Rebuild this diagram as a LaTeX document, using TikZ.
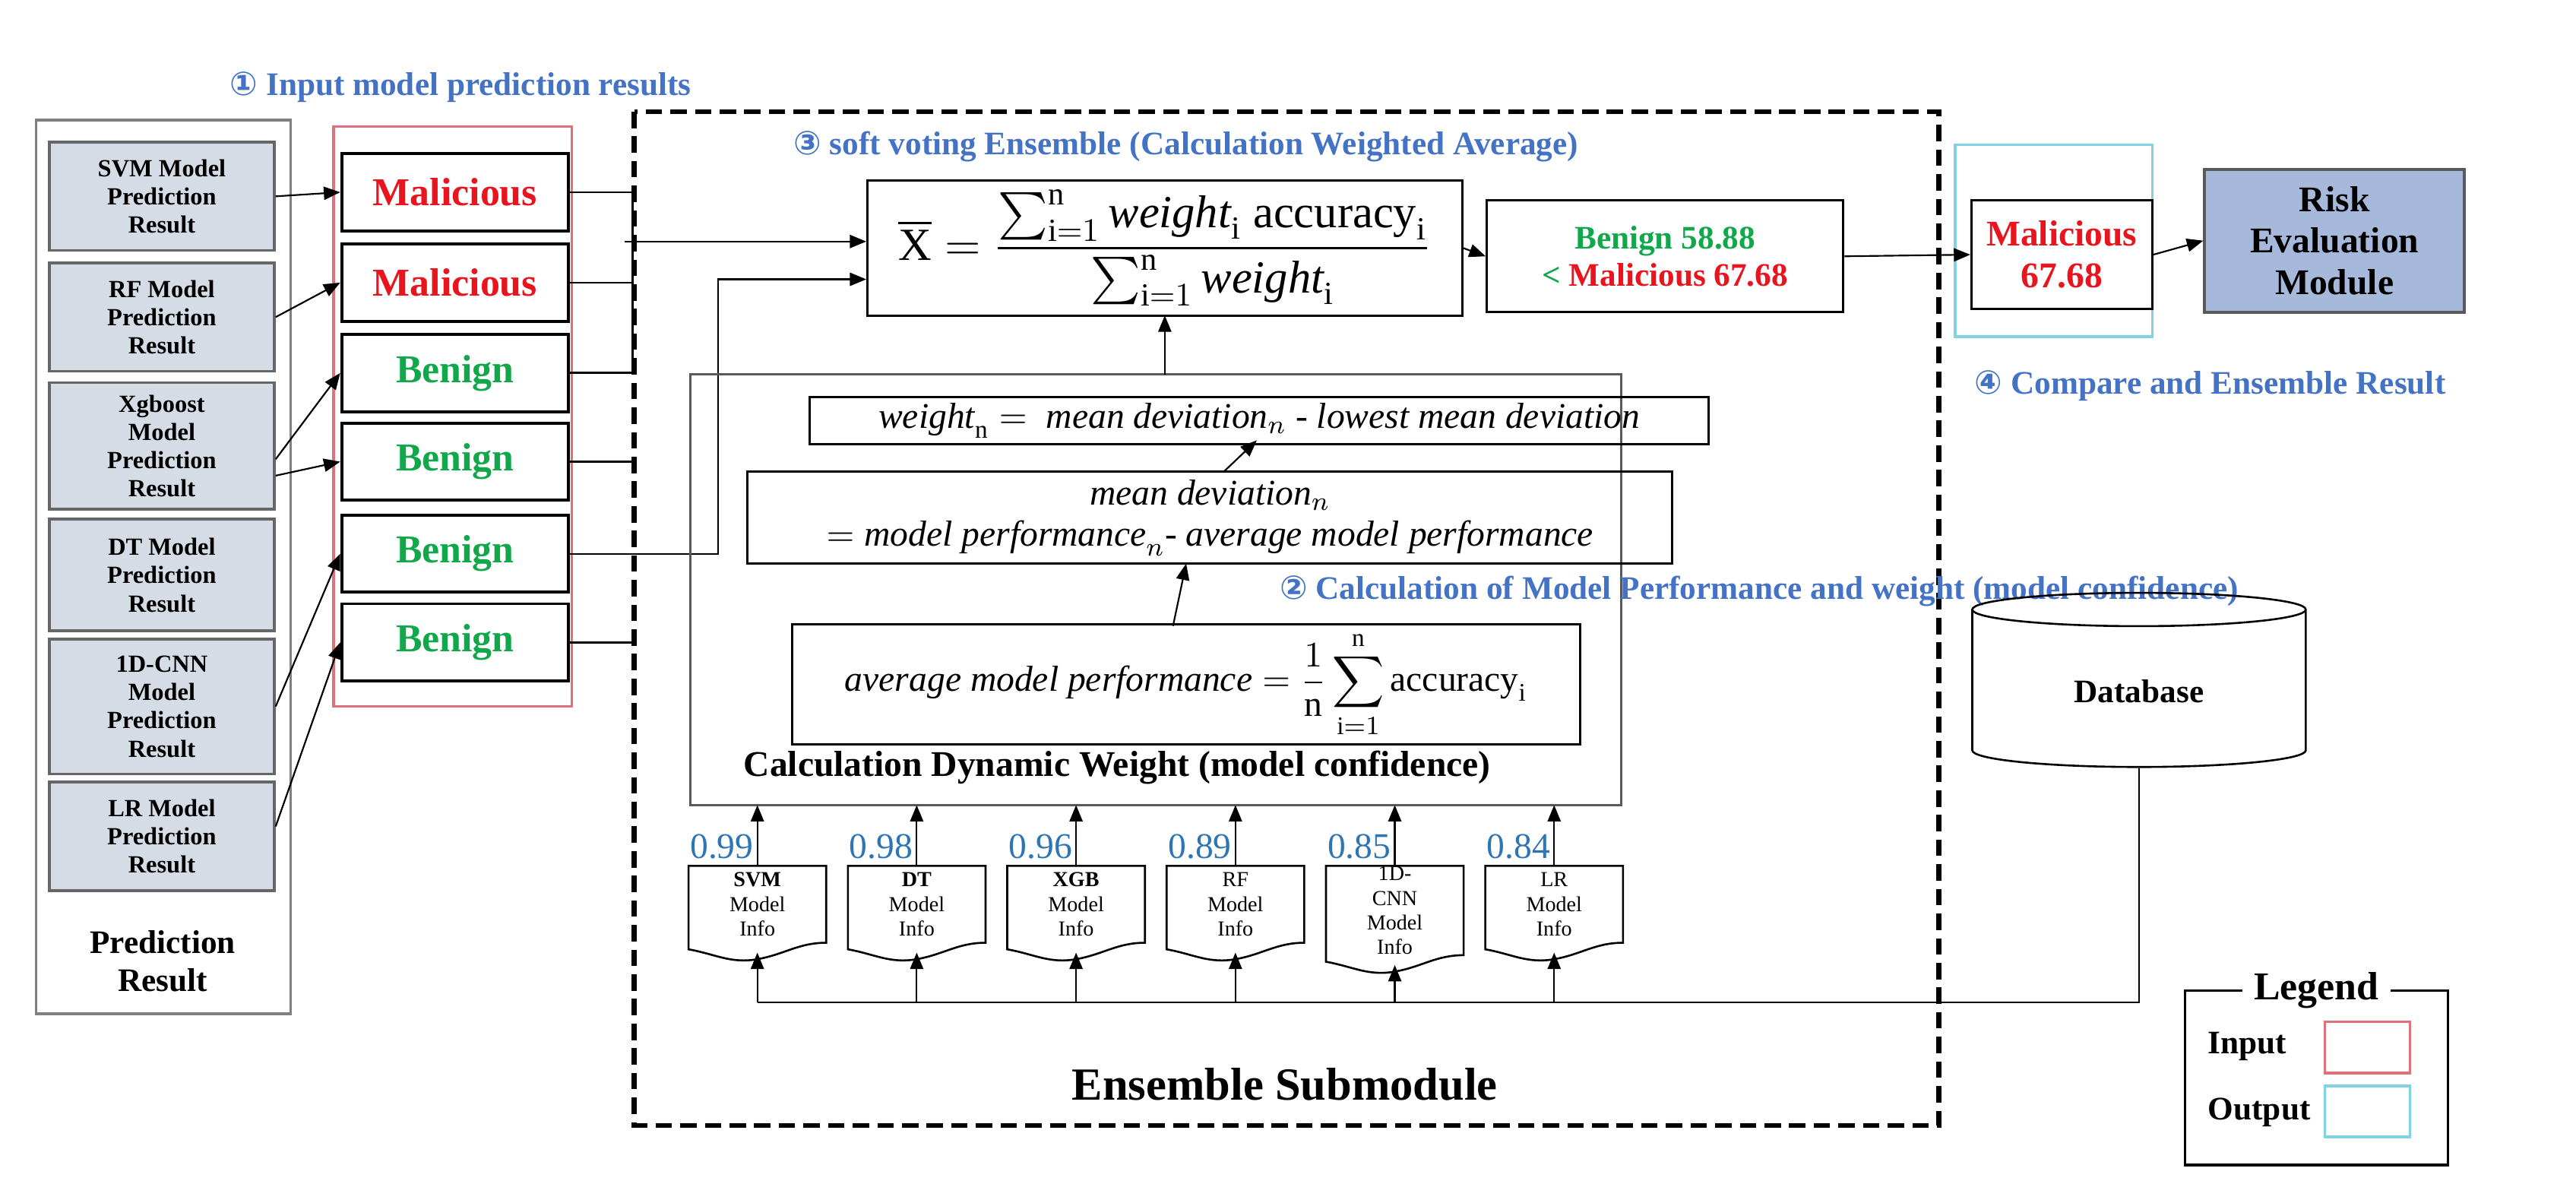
\documentclass[tikz,border=0pt]{standalone}
\usepackage{amsmath}
\usepackage{fontspec}
\setmainfont{Liberation Serif}
\newfontfamily\circfont{DejaVu Sans}
\usepackage{tikz}
\usetikzlibrary{calc,positioning,shapes,arrows,arrows.meta}
\definecolor{stepblue}{HTML}{4472C4}
\definecolor{valblue}{HTML}{2E75B6}
\definecolor{predgray}{HTML}{D6DCE5}
\definecolor{riskblue}{HTML}{A7B9DA}
\definecolor{malred}{HTML}{E8141E}
\definecolor{bengreen}{HTML}{10A84A}
\definecolor{inred}{HTML}{E0707A}
\definecolor{outcyan}{HTML}{7FD3E3}
\newcommand{\fs}[1]{\fontsize{#1}{1.15\dimexpr#1pt\relax}\selectfont}
\tikzset{
	>=Triangle,
	arr/.style={->,>={Triangle[length=5pt,width=4pt]},line width=0.5pt},
	predbox/.style={draw=gray!80!black,fill=predgray,line width=0.8pt,minimum width=68.5pt,align=center,font=\fs{7.5}\bfseries,inner sep=1pt},
	resbox/.style={draw,line width=0.9pt,minimum width=69pt,minimum height=23.5pt,font=\fs{12}\bfseries},
	eqbox/.style={draw,line width=0.7pt,inner sep=2pt},
	docnode/.style={minimum width=41.5pt,minimum height=23pt,align=center,font=\fs{6.5},inner sep=0pt,anchor=north},
	steplbl/.style={text=stepblue,font=\fs{10}\bfseries,anchor=west},
	val/.style={text=valblue,font=\fs{11},anchor=south east,inner sep=0pt}
}
\begin{document}
\begin{tikzpicture}[x=0.5pt,y=-0.5pt]
	\useasboundingbox (0,0) rectangle (1568,732);
	% prediction results
	\draw[gray,line width=0.8pt] (22,73) rectangle (177,617);
	\node[font=\fs{10}\bfseries,align=center] (predlbl) at (99,585) {Prediction\\Result};
	\node[predbox,minimum height=33pt] (svm) at (98.5,119.5) {SVM Model\\Prediction\\Result};
	\node[predbox,minimum height=33pt] (rf) at (98.5,193) {RF Model\\Prediction\\Result};
	\node[predbox,minimum height=38.5pt] (xgb) at (98.5,271.5) {Xgboost\\Model\\Prediction\\Result};
	\node[predbox,minimum height=34pt] (dt) at (98.5,350) {DT Model\\Prediction\\Result};
	\node[predbox,minimum height=41pt] (cnn) at (98.5,430) {1D-CNN\\Model\\Prediction\\Result};
	\node[predbox,minimum height=33pt] (lr) at (98.5,509) {LR Model\\Prediction\\Result};
	\node[steplbl] (s1) at (133,53) {{\circfont ①} Input model prediction results};
	% input votes
	\draw[inred,line width=0.8pt] (203,77) rectangle (348,430);
	\node[resbox,text=malred] (r1) at (277,117) {Malicious};
	\node[resbox,text=malred] (r2) at (277,172) {Malicious};
	\node[resbox,text=bengreen] (r3) at (277,227) {Benign};
	\node[resbox,text=bengreen] (r4) at (277,281) {Benign};
	\node[resbox,text=bengreen] (r5) at (277,337) {Benign};
	\node[resbox,text=bengreen] (r6) at (277,391) {Benign};
	\draw[arr] (svm.east) -- (r1.west);
	\draw[arr] (rf.east) -- (r2.west);
	\draw[arr] ([yshift=-4pt]xgb.east) -- (r3.west);
	\draw[arr] ([yshift=-9pt]xgb.east) -- (r4.west);
	\draw[arr] (cnn.east) -- (r5.west);
	\draw[arr] ([yshift=3pt]lr.east) -- (r6.west);
	% ensemble submodule
	\draw[dashed,line width=1.6pt,dash pattern=on 5pt off 2.5pt] (386,68) rectangle (1180,685);
	\node[font=\fs{14}\bfseries] (ens) at (782,660) {Ensemble Submodule};
	\node[steplbl] (s3) at (476,89) {{\circfont ③} soft voting Ensemble (Calculation Weighted Average)};
	\node[eqbox,minimum width=181pt,minimum height=41pt,inner sep=1pt,font=\fs{14}] (avg) at (709,151)
		{$\overline{\mathrm{X}}=\dfrac{\sum_{\mathrm{i}=1}^{\mathrm{n}}\mathit{weight}_{\mathrm{i}}\ \mathrm{accuracy}_{\mathrm{i}}}{\sum_{\mathrm{i}=1}^{\mathrm{n}}\mathit{weight}_{\mathrm{i}}}$};
	\node[eqbox,minimum width=108.5pt,minimum height=34pt,align=center,font=\fs{10}\bfseries] (cmp) at (1013.5,156)
		{\textcolor{bengreen}{Benign 58.88}\\\textcolor{bengreen}{<} \textcolor{malred}{Malicious 67.68}};
	\draw[line width=0.6pt] (r1.east) -- (385,117) -- (385,227) -- (r3.east);
	\draw[line width=0.6pt] (r2.east) -- (385,172);
	\draw[line width=0.6pt] (r4.east) -- (385,281);
	\draw[line width=0.6pt] (r6.east) -- (385,391);
	\draw[arr] (380,147) -- (avg.west |- 0,147);
	\draw[arr] (r5.east) -- (437,337) -- (437,170) -- (avg.west |- 0,170);
	\draw[arr] (avg.east) -- (cmp.west);
	% dynamic weight
	\draw[gray!70!black,line width=0.7pt] (420,228) rectangle (987,490);
	\node[font=\fs{11}\bfseries] (dwl) at (680,467) {Calculation Dynamic Weight (model confidence)};
	\node[eqbox,minimum width=273.5pt,minimum height=12.5pt,font=\fs{11}] (wgt) at (766.5,256)
		{$\mathit{weight}_{\mathrm{n}}=\ \mathit{mean\ deviation}_{n}$ - $\mathit{lowest\ mean\ deviation}$};
	\node[eqbox,minimum width=281.5pt,minimum height=28pt,align=center,font=\fs{11}] (dev) at (736.5,315)
		{$\mathit{mean\ deviation}_n$\\$=\mathit{model\ performance}_n$- $\mathit{average\ model\ performance}$};
	\node[eqbox,minimum width=240pt,minimum height=35.5pt,font=\fs{11}] (amp) at (722,416.5)
		{$\mathit{average\ model\ performance}=\dfrac{1}{\mathrm{n}}\displaystyle\sum_{\mathrm{i}=1}^{\mathrm{n}}\mathrm{accuracy}_{\mathrm{i}}$};
	\node[steplbl] (s2) at (772,360) {{\circfont ②} Calculation of Model Performance and weight (model confidence)};
	\draw[arr] (avg.south |- 0,228) -- (avg.south |- 0,192);
	\draw[arr] (745,287) -- (765,268);
	\draw[arr] (714,381) -- (722,343);
	% model info documents
	\foreach \n/\x/\v/\t in {1/461/0.99/\textbf{SVM}\\Model\\Info, 2/558/0.98/\textbf{DT}\\Model\\Info,
		3/655/0.96/\textbf{XGB}\\Model\\Info, 4/752/0.89/RF\\Model\\Info,
		5/849/0.85/1D-\\CNN\\Model\\Info, 6/946/0.84/LR\\Model\\Info}{
		\node[docnode] (d\n) at (\x,527) {\t};
		\draw[line width=0.6pt] (d\n.north west) -- (d\n.north east) -- (d\n.south east)
			to[out=180,in=10] ($(d\n.south)+(0,-5pt)$) to[out=190,in=-10] ($(d\n.south west)+(0,-2pt)$) -- cycle;
		\draw[arr] (d\n.north) -- (d\n.north |- 0,490);
		\node[val] (v\n) at ([xshift=-1pt,yshift=2pt]d\n.north) {\v};
		\draw[arr] (d\n.south |- 0,610) -- ($(d\n.south)+(0,-3pt)$);
	}
	% compare and output
	\draw[outcyan,line width=0.8pt] (1190,88) rectangle (1310,205);
	\node[eqbox,minimum width=55pt,minimum height=33pt,align=center,text=malred,font=\fs{11}\bfseries] (fin) at (1255,155) {Malicious\\67.68};
	\node[draw=gray!70!black,fill=riskblue,line width=0.9pt,minimum width=79pt,minimum height=43.5pt,align=center,font=\fs{11}\bfseries] (risk) at (1421,146.5) {Risk\\Evaluation\\Module};
	\node[steplbl] (s4) at (1195,235) {{\circfont ④} Compare and Ensemble Result};
	\draw[arr] (cmp.east) -- (fin.west);
	\draw[arr] (fin.east) -- (risk.west);
	% database
	\node[cylinder,shape border rotate=90,draw,line width=0.6pt,aspect=0.22,minimum width=101.5pt,minimum height=53pt,font=\fs{10}\bfseries] (db) at (1302,421) {Database};
	\draw[line width=0.6pt] (db.south) -- (db.south |- 0,610) -- (d1.south |- 0,610);
	% legend
	\node[font=\fs{12}\bfseries] (leg) at (1410,603) {Legend};
	\draw[line width=0.8pt] (leg.west) -- (1330,603) -- (1330,709) -- (1490,709) -- (1490,603) -- (leg.east);
	\node[font=\fs{10}\bfseries,anchor=west] (lin) at (1337,637) {Input};
	\node[draw=inred,line width=0.8pt,minimum width=26pt,minimum height=15.5pt] (lbi) at (1441,637.5) {};
	\node[font=\fs{10}\bfseries,anchor=west] (lout) at (1337,677) {Output};
	\node[draw=outcyan,line width=0.8pt,minimum width=26pt,minimum height=15.5pt] (lbo) at (1441,676.5) {};
\end{tikzpicture}
\end{document}
